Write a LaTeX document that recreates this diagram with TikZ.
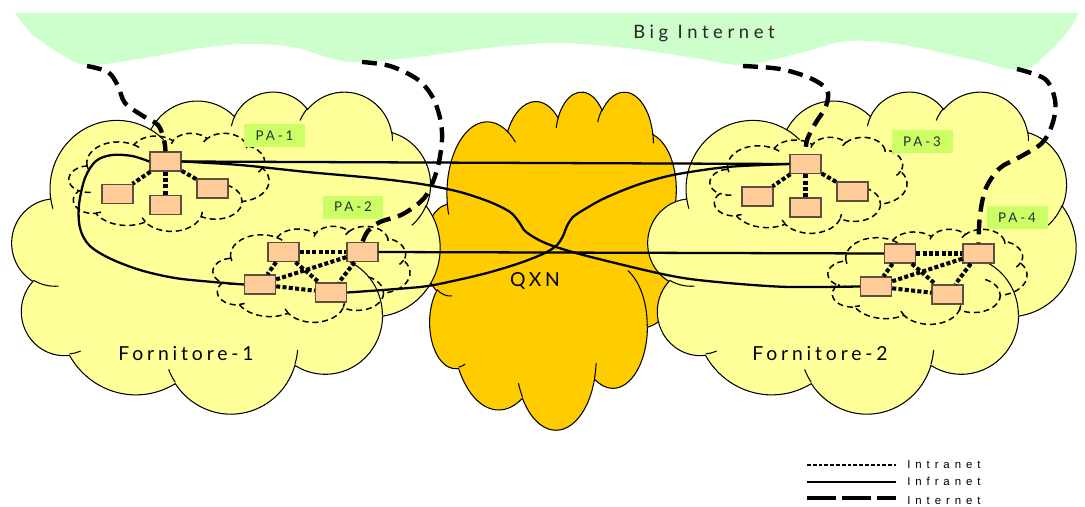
\documentclass[tikz,border=0pt]{standalone}
\usepackage{fontspec}
\setmainfont{Lato}
\newfontfamily\cloudfont[LetterSpace=20]{Lato}
\newfontfamily\netfont[LetterSpace=25]{Lato}
\newfontfamily\tagfont[LetterSpace=22]{Lato}
\newfontfamily\keyfont[LetterSpace=43]{Liberation Sans}

\definecolor{netgreen}{HTML}{CCFFCC}
\definecolor{provyellow}{HTML}{FFFF99}
\definecolor{qxnorange}{HTML}{FFCC00}
\definecolor{hostfill}{HTML}{FFCC99}
\definecolor{hostline}{HTML}{5E5040}
\definecolor{tagfill}{HTML}{CCFF66}
\definecolor{tagtext}{HTML}{2A2A2A}

% Outline of the cloud symbol in a 43.2 x 43.2 box (y pointing down);
% each arc is given by radii, start angle measured on the ellipse as seen, and sweep.
\def\cloudrim{(3.900,14.370)
  arc[ea={6.753}{9.190}{-190.4875}{123.7805}]
  arc[ea={5.333}{7.267}{-144.1024}{89.9452}]
  arc[ea={4.365}{5.945}{-145.8079}{99.7230}]
  arc[ea={4.857}{6.595}{-130.9861}{117.2417}]
  arc[ea={5.333}{7.273}{-78.7089}{109.0269}]
  arc[ea={6.775}{9.220}{-46.2673}{130.2690}]
  arc[ea={5.785}{7.867}{0.6250}{114.0333}]
  arc[ea={6.752}{9.215}{22.4516}{115.1726}]
  arc[ea={7.720}{10.543}{66.2426}{75.7110}]
  arc[ea={4.360}{5.918}{-274.9421}{146.7356}]
  arc[ea={4.345}{5.945}{-246.8285}{152.5189}]
  -- cycle}
% Short inner strokes that separate the puffs
\def\cloudcreases{
  (4.693,26.177) arc[ea={4.345}{5.945}{86.7420}{26.4295}]
  (6.928,34.899) arc[ea={4.360}{5.918}{73.6105}{11.4475}]
  (16.478,39.090) arc[ea={6.752}{9.215}{137.6242}{14.0811}]
  (28.827,34.751) arc[ea={6.752}{9.215}{6.4533}{15.9984}]
  (34.129,22.954) arc[ea={5.785}{7.867}{-70.2924}{70.9174}]
  (41.798,15.354) arc[ea={5.333}{7.273}{30.3180}{27.7515}]
  (38.324,5.426) arc[ea={4.857}{6.595}{-13.7443}{14.8589}]
  (29.078,3.952) arc[ea={4.857}{6.595}{-149.1815}{18.1954}]
  (22.141,4.720) arc[ea={4.365}{5.945}{-163.4943}{17.6864}]
  (14.000,5.192) arc[ea={6.753}{9.190}{-66.7070}{12.3194}]
  (4.127,15.789) arc[ea={6.753}{9.190}{157.6544}{11.8582}]
}
% \netcloud{left}{top}{width}{height}{style}
\newcommand\netcloud[5]{%
  \begin{scope}[shift={(#1,#2)}, xscale=#3/43.2, yscale=#4/43.2]
    \path[#5] \cloudrim;
    \path[#5, fill=none] \cloudcreases;
  \end{scope}}

\begin{document}
\begin{tikzpicture}[
  x=0.02cm, y=-0.02cm,
  declare function={
    va(\ang,\rxx,\ryy)=atan2(\rxx*sin(\ang),\ryy*cos(\ang));
    dva(\ang,\swp,\rxx,\ryy)=mod(mod(va(\ang+\swp,\rxx,\ryy)-va(\ang,\rxx,\ryy),360)+360,360);
  },
  ea/.style n args={4}{x radius=#1, y radius=#2,
    start angle={va(#3,#1,#2)}, delta angle={dva(#3,#4,#1,#2)}},
  provider/.style={fill=provyellow, draw=black, line width=0.6pt},
  backbone/.style={fill=qxnorange, draw=black, line width=0.6pt},
  subnet/.style={draw=black, line width=0.85pt, dash pattern=on 3.4pt off 2.2pt},
  host/.style={draw=hostline, fill=hostfill, line width=0.8pt,
    minimum width=0.62cm, minimum height=0.38cm, inner sep=0pt},
  tag/.style={fill=tagfill, text=tagtext, minimum width=1.22cm,
    minimum height=0.46cm, inner sep=0pt, font=\tagfont\fontsize{7.6}{9}\selectfont},
  cloudlabel/.style={font=\cloudfont\fontsize{11}{13}\selectfont, text=black, inner sep=0pt},
  intranet/.style={line width=2.3pt, dash pattern=on 2.3pt off 1.3pt},
  infranet/.style={line width=1.3pt},
  internet/.style={line width=2.5pt, dash pattern=on 8.5pt off 4.5pt},
  keyintranet/.style={line width=1.6pt, dash pattern=on 2.2pt off 1.1pt},
  keyinfranet/.style={line width=1.2pt},
  keyinternet/.style={line width=2.3pt, dash pattern=on 16.5pt off 3.4pt},
  keytext/.style={font=\keyfont\fontsize{6.5}{8}\selectfont, anchor=west, inner sep=0pt},
]
\useasboundingbox (0,0) rectangle (1085,507);

% Big Internet band
\fill[netgreen] plot[smooth, tension=0.55] coordinates {
  (15,13) (31,33) (59,53) (87,65) (139,59) (195,49) (243,44) (292,47)
  (350,62) (417,57) (487,48) (556,43) (626,48) (695,58) (744,65)
  (800,53) (848,41) (904,45) (974,60) (1022,70) (1050,51) (1071,27) (1078,13)}
  -- cycle;
\node[font=\netfont\fontsize{10.5}{12}\selectfont, text=black!85] (bignet) at (704,33) {Big Internet};

% Backbone and provider clouds
\netcloud{424}{91}{258}{338}{backbone}
\netcloud{12}{91}{428}{322}{provider}
\netcloud{648}{91}{428}{322}{provider}

% Sub-networks of the public administrations
\netcloud{69}{133}{200}{98}{subnet}
\netcloud{213}{226}{197}{96}{subnet}
\netcloud{710}{137}{197}{96}{subnet}
\netcloud{828}{229}{199}{95}{subnet}

\node[cloudlabel] (qxn) at (535,281) {QXN};
\node[cloudlabel] (forn1) at (186,354) {Fornitore-1};
\node[cloudlabel] (forn2) at (820,354) {Fornitore-2};

\node[tag] (tag1) at (274.5,135.5) {PA-1};
\node[tag] (tag2) at (353,207) {PA-2};
\node[tag] (tag3) at (922,141.5) {PA-3};
\node[tag] (tag4) at (1017,217.5) {PA-4};

% Hosts
\node[host] (p1h) at (165.5,161.5) {};
\node[host] (p1a) at (117.5,194) {};
\node[host] (p1b) at (165.5,205) {};
\node[host] (p1c) at (212.5,188.5) {};
\node[host] (p2a) at (283.5,252) {};
\node[host] (p2b) at (362.5,252) {};
\node[host] (p2c) at (260,284.5) {};
\node[host] (p2d) at (331,292.5) {};
\node[host] (p3h) at (805.5,164) {};
\node[host] (p3a) at (757.5,196.5) {};
\node[host] (p3b) at (805.5,207.5) {};
\node[host] (p3c) at (852.5,191.5) {};
\node[host] (p4a) at (900,253.5) {};
\node[host] (p4b) at (978.5,253.5) {};
\node[host] (p4c) at (876,286.5) {};
\node[host] (p4d) at (947.5,294.5) {};

% Intranet links
\foreach \u/\v in {p1h/p1a, p1h/p1b, p1h/p1c, p3h/p3a, p3h/p3b, p3h/p3c,
  p2a/p2b, p2a/p2c, p2a/p2d, p2b/p2c, p2b/p2d, p2c/p2d,
  p4a/p4b, p4a/p4c, p4a/p4d, p4b/p4c, p4b/p4d, p4c/p4d}
  \draw[intranet] (\u) -- (\v);

% Infranet links
\draw[infranet] (p1h.east) -- (p3h.west);
\draw[infranet] (p2b.east) -- (p4a.west);
\draw[infranet] plot[smooth, tension=0.5] coordinates {(p1h.east) (240,165) (307,172)
  (373,178) (421,184) (460,192) (490,202) (510,212) (519,222) (525,231) (537,239)
  (553,246) (587,256) (653,272) (690,279) (740,284) (790,287) (p4c.west)};
\draw[infranet] plot[smooth, tension=0.5] coordinates {(p2d.east) (420,287) (453,281)
  (487,273) (520,263) (545,253) (557,245) (563,236) (567,226) (573,217) (585,209)
  (605,198) (637,185) (673,175) (727,167) (p3h.west)};
\draw[infranet] plot[smooth, tension=0.55] coordinates {(p1h.west) (132,156) (112,155)
  (96,161) (85,178) (79,205) (80,228) (89,245) (109,258) (140,270) (175,278)
  (213,282) (p2c.west)};

% Internet links towards the Big Internet
\coordinate (gw1) at (87,66);
\coordinate (gw2) at (362,62);
\coordinate (gw3) at (743,66);
\coordinate (gw4) at (1017,69);
\draw[internet] plot[smooth, tension=0.55] coordinates {(gw1) (108,72) (118,86)
  (125,103) (143,116) (158,125) (164,140) (p1h.north)};
\draw[internet] plot[smooth, tension=0.55] coordinates {(gw2) (390,66) (417,79)
  (432,96) (440,118) (442,140) (437,170) (425,197) (403,214) (380,222) (368,231)
  (p2b.north)};
\draw[internet] plot[smooth, tension=0.55] coordinates {(gw3) (780,69) (810,78)
  (827,90) (826,106) (815,124) (807,140) (p3h.north)};
\draw[internet] plot[smooth, tension=0.55] coordinates {(gw4) (1045,79) (1055,100)
  (1053,122) (1042,143) (1018,158) (1000,168) (986,188) (980,215) (p4b.north)};

% Legend
\coordinate (k1a) at (807,465); \coordinate (k1b) at (896,465);
\coordinate (k2a) at (807,482); \coordinate (k2b) at (896,482);
\coordinate (k3a) at (807,498); \coordinate (k3b) at (896,498);
\draw[keyintranet] (k1a) -- (k1b);
\draw[keyinfranet] (k2a) -- (k2b);
\draw[keyinternet] (k3a) -- (k3b);
\node[keytext] (key1) at (907,465) {Intranet};
\node[keytext] (key2) at (907,481) {Infranet};
\node[keytext] (key3) at (907,501) {Internet};
\end{tikzpicture}
\end{document}
